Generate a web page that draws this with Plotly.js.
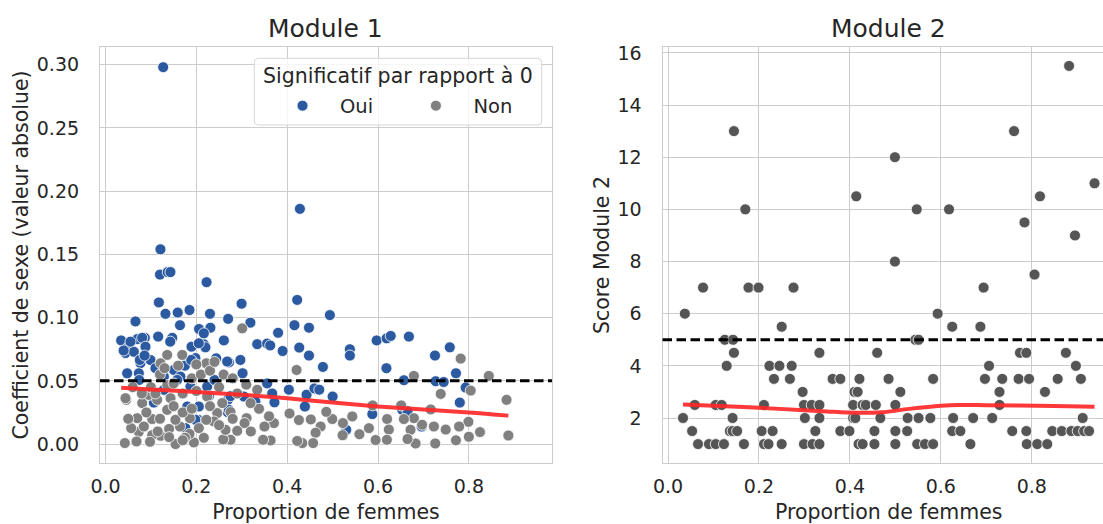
<!DOCTYPE html>
<html>
<head>
<meta charset="utf-8">
<script src="https://cdn.plot.ly/plotly-3.0.1.min.js"></script>
<style>
  html, body { margin: 0; padding: 0; background: #ffffff; overflow: hidden; }
  #chart { width: 1115px; height: 524px; }
</style>
</head>
<body>
<div id="chart"></div>
<script>
// ---- Module 1: |sex coefficient| per group vs. share of women ----
// significant groups ("Oui")
const m1OuiX = [0.127,0.428,0.121,0.120,0.137,0.143,0.2225,0.1175,0.422,0.2996,0.066,0.132,0.159,0.185,0.164,0.230,0.231,0.270,0.319,0.206,
  0.494,0.416,0.448,0.380,0.116,0.147,0.1425,0.0866,0.0345,0.051,0.0698,0.0808,0.088,0.044,0.0624,0.077,0.099,0.1894,0.2165,0.22,
  0.2606,0.297,0.2716,0.1747,0.198,0.334,0.356,0.3626,0.39,0.4266,0.448,0.4787,0.538,0.538,0.597,0.619,0.628,0.668,0.6185,0.7254,
  0.758,0.7716,0.793,0.78,0.657,0.727,0.7446,0.356,0.4037,0.4427,0.46,0.4707,0.50,0.367,0.372,0.330,0.3047,0.2694,0.269,0.1065,
  0.0734,0.1285,0.2055,0.176,0.530,0.5874,0.6534,0.696,0.439,0.3018,0.055,0.040,0.0756,0.1505,0.1887,0.2055,0.2165,0.165,0.0477,0.0742,
  0.1285,0.1395,0.1578,0.187,0.2239,0.240,0.2437,0.2679,0.2753,0.2716,0.180,0.2055,0.2276,0.198,0.665,0.086,0.110];
const m1OuiY = [0.298,0.186,0.154,0.134,0.136,0.136,0.128,0.112,0.114,0.111,0.097,0.103,0.104,0.106,0.094,0.103,0.092,0.099,0.096,0.091,
  0.102,0.094,0.092,0.088,0.085,0.084,0.081,0.084,0.082,0.077,0.083,0.084,0.077,0.072,0.073,0.064,0.0665,0.077,0.079,0.0765,
  0.082,0.0665,0.0646,0.062,0.068,0.079,0.0795,0.078,0.0736,0.0763,0.070,0.061,0.075,0.070,0.082,0.0836,0.0855,0.085,0.060,0.070,
  0.0765,0.056,0.0447,0.0328,0.0505,0.0497,0.0491,0.048,0.043,0.039,0.044,0.043,0.0376,0.040,0.033,0.0336,0.0376,0.035,0.0253,0.0328,
  0.056,0.0534,0.0297,0.0126,0.0113,0.0237,0.0271,0.0139,0.0297,0.056,0.081,0.074,0.0665,0.0586,0.0665,0.0797,0.0876,0.0534,0.056,0.0507,
  0.0429,0.046,0.0507,0.0455,0.0455,0.0507,0.0678,0.0653,0.0379,0.0271,0.0297,0.019,0.0379,0.0192,0.026,0.070,0.060];

// non-significant groups ("Non")
const m1NonX = [0.301,0.4207,0.782,0.844,0.679,0.738,0.804,0.883,0.887,0.8245,0.799,0.7786,0.7716,0.80,0.749,0.723,0.726,0.716,0.697,0.679,
  0.6716,0.6827,0.665,0.657,0.651,0.62,0.6238,0.6195,0.5947,0.58,0.588,0.559,0.5433,0.5227,0.522,0.4993,0.4861,0.4736,0.4626,0.4571,
  0.4332,0.4221,0.4259,0.4052,0.452,0.3708,0.3634,0.347,0.35,0.338,0.3106,0.3062,0.290,0.2753,0.2592,0.2643,0.2753,0.334,0.3194,0.257,
  0.246,0.2386,0.222,0.2165,0.1946,0.1542,0.2055,0.1858,0.164,0.154,0.1358,0.1212,0.1028,0.098,0.0734,0.0565,0.0426,0.0683,0.0844,0.0698,
  0.1028,0.0455,0.0808,0.0954,0.1138,0.1432,0.136,0.1358,0.1212,0.169,0.222,0.2239,0.044,0.10,0.12,0.15,0.17,0.19,0.20,0.21,
  0.23,0.25,0.26,0.28,0.29,0.31,0.15,0.17,0.12,0.14,0.19,0.23,0.25,0.28,0.11,0.16,0.20,0.24,0.13,0.06,
  0.08,0.09,0.05,0.115,0.185,0.32,0.36,0.175,0.14,0.17];
const m1NonY = [0.0915,0.0586,0.0676,0.0539,0.0539,0.0397,0.0423,0.035,0.0068,0.0095,0.0176,0.0139,0.0030,0.0058,0.0115,0.0139,0.0005,0.0274,0.0153,0.0205,
  0.0113,0.0005,0.004,0.0198,0.0306,0.0198,0.0115,0.0034,0.0032,0.0126,0.0306,0.0078,0.0219,0.0166,0.0070,0.0198,0.0255,0.0139,0.009,0.0008,
  0.0008,0.0025,0.019,0.0242,0.0195,0.0166,0.0029,0.0034,0.0139,0.0279,0.0205,0.0166,0.0105,0.0034,0.0037,0.0113,0.0253,0.0429,0.0324,0.0324,
  0.0245,0.0179,0.0192,0.005,0.0013,0.0,0.0126,0.0205,0.0139,0.0192,0.0271,0.0066,0.0071,0.0018,0.0097,0.0126,0.0008,0.0021,0.0139,0.0205,
  0.0198,0.035,0.0324,0.0389,0.035,0.0363,0.0466,0.0705,0.0639,0.0705,0.0639,0.0376,0.0363,0.045,0.055,0.048,0.040,0.052,0.042,0.055,
  0.058,0.045,0.055,0.052,0.040,0.047,0.030,0.025,0.020,0.012,0.028,0.030,0.015,0.020,0.040,0.062,0.063,0.065,0.060,0.045,
  0.040,0.025,0.020,0.010,0.008,0.010,0.022,0.005,0.0055,0.003];

// smoothed trend over all groups
const m1TrendX = [0.0345,0.10,0.20,0.30,0.40,0.50,0.60,0.70,0.80,0.887];
const m1TrendY = [0.0445,0.0432,0.0412,0.0390,0.0362,0.0328,0.0298,0.0274,0.0250,0.0225];
const m1Threshold = 0.05;

// ---- Module 2: score per group vs. share of women ----
const m2X = [0.882,0.145,0.761,0.499,0.414,0.818,0.938,0.170,0.547,0.618,0.784,0.895,0.499,0.806,0.077,0.177,0.199,0.276,0.694,
  0.037,0.593,
  0.250,0.625,0.687,
  0.125,0.143,0.544,0.551,
  0.145,0.333,0.460,0.774,0.788,0.875,
  0.129,0.223,0.245,0.272,0.706,0.897,
  0.233,0.268,0.362,0.379,0.421,0.485,0.583,0.697,0.735,0.771,0.794,0.857,0.908,
  0.296,0.410,0.417,0.511,0.729,0.829,
  0.059,0.105,0.118,0.211,0.299,0.316,0.333,0.407,0.428,0.435,0.457,0.500,0.729,
  0.033,0.142,0.301,0.333,0.407,0.412,0.467,0.527,0.551,0.577,0.627,0.671,0.713,0.912,
  0.053,0.136,0.142,0.152,0.206,0.230,0.324,0.379,0.399,0.454,0.500,0.526,0.625,0.643,0.757,0.788,0.845,0.866,0.887,0.901,0.915,0.926,
  0.066,0.090,0.105,0.123,0.167,0.211,0.221,0.250,0.299,0.318,0.333,0.419,0.428,0.454,0.500,0.548,0.565,0.583,0.665,0.789,0.812,0.834];
const m2Y = [15.5,13,13,12,10.5,10.5,11,10,10,10,9.5,9,8,7.5,7,7,7,7,7,
  6,6,
  5.5,5.5,5.5,
  5,5,5,5,
  4.5,4.5,4.5,4.5,4.5,4.5,
  4,4,4,4,4,4,
  3.5,3.5,3.5,3.5,3.5,3.5,3.5,3.5,3.5,3.5,3.5,3.5,3.5,
  3,3,3,3,3,3,
  2.5,2.5,2.5,2.5,2.5,2.5,2.5,2.5,2.5,2.5,2.5,2.5,2.5,
  2,2,2,2,2,2,2,2,2,2,2,2,2,2,
  1.5,1.5,1.5,1.5,1.5,1.5,1.5,1.5,1.5,1.5,1.5,1.5,1.5,1.5,1.5,1.5,1.5,1.5,1.5,1.5,1.5,1.5,
  1,1,1,1,1,1,1,1,1,1,1,1,1,1,1,1,1,1,1,1,1,1];
const m2TrendX = [0.033,0.10,0.20,0.30,0.35,0.415,0.47,0.53,0.60,0.64,0.70,0.77,0.85,0.938];
const m2TrendY = [2.52,2.47,2.39,2.30,2.25,2.20,2.22,2.35,2.47,2.50,2.49,2.48,2.46,2.43];
const m2Threshold = 5;

const panelTitles = ['Module 1', 'Module 2'];
const xLabel = 'Proportion de femmes';
const yLabels = ['Coefficient de sexe (valeur absolue)', 'Score Module 2'];
const legendTitle = 'Significatif par rapport à 0';
const groupNames = ['Oui', 'Non'];

// ---- styling ----
const FONT = 'DejaVu Sans, Verdana, sans-serif';
const INK = '#262626';
const GRID = '#cccccc';
const BLUE = '#2c5aa0';
const GREY = '#808080';
const DARK = '#555555';
const TREND = 'rgba(255,40,40,0.92)';
const xRange = [-0.0121, 0.983];

// plot-area geometry in pixels, used to place the legend frame and titles
const W = 1115, H = 524, ML = 100, MT = 47, MB = 61;
const PW = W - ML, PH = H - MT - MB;
const px = v => (v - ML) / PW;          // page x -> paper x
const py = v => (H - MB - v) / PH;      // page y -> paper y

const dotLine = { color: '#ffffff', width: 0.8 };
const DOT = 11;

const traces = [
  { type: 'scatter', mode: 'markers', x: m1OuiX, y: m1OuiY, name: groupNames[0],
    marker: { color: BLUE, size: DOT, line: dotLine }, xaxis: 'x', yaxis: 'y', hoverinfo: 'x+y' },
  { type: 'scatter', mode: 'markers', x: m1NonX, y: m1NonY, name: groupNames[1],
    marker: { color: GREY, size: DOT, line: dotLine }, xaxis: 'x', yaxis: 'y', hoverinfo: 'x+y' },
  { type: 'scatter', mode: 'lines', x: m1TrendX, y: m1TrendY, showlegend: false,
    line: { color: TREND, width: 4, shape: 'spline' }, xaxis: 'x', yaxis: 'y', hoverinfo: 'skip' },
  { type: 'scatter', mode: 'markers', x: m2X, y: m2Y, showlegend: false,
    marker: { color: DARK, size: DOT, line: dotLine }, xaxis: 'x2', yaxis: 'y2', hoverinfo: 'x+y' },
  { type: 'scatter', mode: 'lines', x: m2TrendX, y: m2TrendY, showlegend: false,
    line: { color: TREND, width: 4, shape: 'spline' }, xaxis: 'x2', yaxis: 'y2', hoverinfo: 'skip' }
];

function baseAxis() {
  return {
    showgrid: true, gridcolor: GRID, gridwidth: 1,
    showline: true, linecolor: GRID, linewidth: 1.25, mirror: true,
    zeroline: false, ticks: '', automargin: false, fixedrange: true,
    tickfont: { family: FONT, size: 19, color: INK }
  };
}

function xAxis(domain, anchor) {
  return Object.assign(baseAxis(), {
    domain: domain, anchor: anchor, range: xRange,
    tick0: 0, dtick: 0.2, tickformat: '.1f', ticklabelstandoff: 6,
    title: { text: xLabel, font: { family: FONT, size: 20.5, color: INK }, standoff: 11 }
  });
}

function yAxis(anchor, range, dtick, fmt, label) {
  return Object.assign(baseAxis(), {
    anchor: anchor, range: range, tick0: 0, dtick: dtick, tickformat: fmt,
    ticklabelstandoff: 16,
    title: { text: label, font: { family: FONT, size: 20.5, color: INK }, standoff: 2 }
  });
}

const dash = { color: '#000000', width: 3, dash: '9.5px,4.5px' };

// rounded legend frame
const box = { x0: px(254.3), x1: px(541.7), y0: py(125), y1: py(58.3) };
const rx = 4 / PW, ry = 4 / PH;
const framePath = [
  'M', box.x0 + rx, box.y1,
  'L', box.x1 - rx, box.y1, 'Q', box.x1, box.y1, box.x1, box.y1 - ry,
  'L', box.x1, box.y0 + ry, 'Q', box.x1, box.y0, box.x1 - rx, box.y0,
  'L', box.x0 + rx, box.y0, 'Q', box.x0, box.y0, box.x0, box.y0 + ry,
  'L', box.x0, box.y1 - ry, 'Q', box.x0, box.y1, box.x0 + rx, box.y1, 'Z'
].join(' ');

const layout = {
  width: W, height: H,
  margin: { l: ML, r: 0, t: MT, b: MB },
  paper_bgcolor: '#ffffff', plot_bgcolor: '#ffffff',
  font: { family: FONT, color: INK },
  showlegend: true,
  xaxis: xAxis([0, 0.4453], 'y'),
  yaxis: yAxis('x', [-0.01495, 0.31395], 0.05, '.2f', yLabels[0]),
  xaxis2: xAxis([0.5542, 1], 'y2'),
  yaxis2: yAxis('x2', [0.275, 16.225], 2, 'd', yLabels[1]),
  shapes: [
    { type: 'line', xref: 'x domain', yref: 'y', x0: 0, x1: 1, y0: m1Threshold, y1: m1Threshold, line: dash, layer: 'above' },
    { type: 'line', xref: 'x2 domain', yref: 'y2', x0: 0, x1: 1, y0: m2Threshold, y1: m2Threshold, line: dash, layer: 'above' },
    { type: 'path', xref: 'paper', yref: 'paper', path: framePath, layer: 'above',
      fillcolor: 'rgba(255,255,255,0.8)', line: { color: '#d6d6d6', width: 1 } }
  ],
  annotations: [
    { text: panelTitles[0], xref: 'paper', yref: 'paper', x: 0.4453 / 2, y: 1.0048,
      xanchor: 'center', yanchor: 'bottom', showarrow: false, font: { family: FONT, size: 25, color: INK } },
    { text: panelTitles[1], xref: 'paper', yref: 'paper', x: (0.5542 + 1) / 2, y: 1.0048,
      xanchor: 'center', yanchor: 'bottom', showarrow: false, font: { family: FONT, size: 25, color: INK } },
    { text: legendTitle, xref: 'paper', yref: 'paper', x: px(398), y: py(76),
      xanchor: 'center', yanchor: 'middle', showarrow: false, font: { family: FONT, size: 20.5, color: INK } }
  ],
  legend: {
    x: px(265), y: py(106), xanchor: 'left', yanchor: 'middle',
    orientation: 'h',
    font: { family: FONT, size: 19.5, color: INK },
    bgcolor: 'rgba(0,0,0,0)', borderwidth: 0,
    itemwidth: 65, entrywidth: 53.4, entrywidthmode: 'pixels'
  },
  hovermode: 'closest'
};

Plotly.newPlot('chart', traces, layout, { displayModeBar: false });
</script>
</body>
</html>
